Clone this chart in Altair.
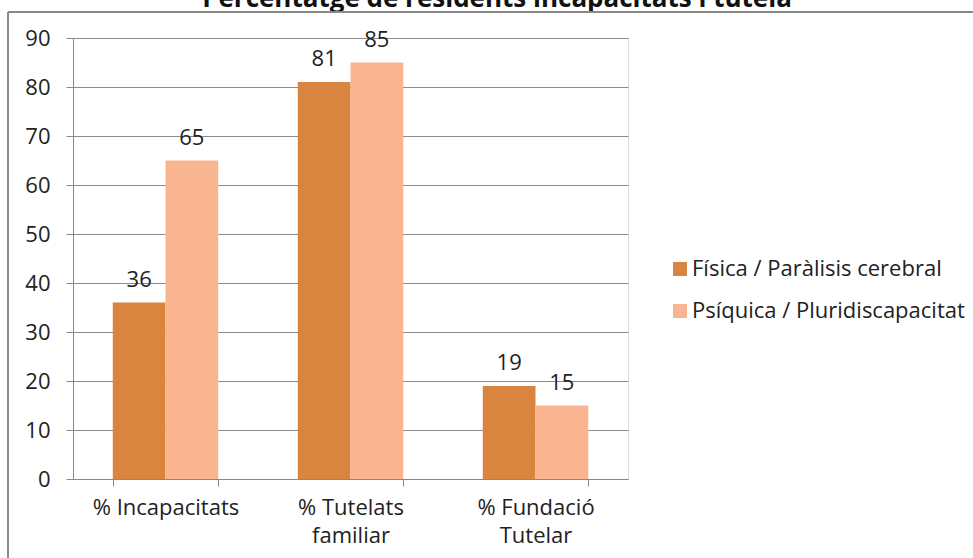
import altair as alt
import pandas as pd

categories = ["% Incapacitats", "% Tutelats familiar", "% Fundació Tutelar"]
series = ["Física / Paràlisis cerebral", "Psíquica / Pluridiscapacitat"]
fisica = [36, 81, 19]
psiquica = [65, 85, 15]
colors = ["#D9843F", "#F9B590"]
title_text = "Percentatge de residents incapacitats i tutela"

rows = []
for i, c in enumerate(categories):
    rows.append({"cat": c, "serie": series[0], "val": fisica[i]})
    rows.append({"cat": c, "serie": series[1], "val": psiquica[i]})
df = pd.DataFrame(rows)

FONT = "Open Sans"
FS = 22
W, H = 555, 441
PL, PT = 73, 38

label_expr = ("indexof(datum.label, 'Incapacitats') >= 0 ? datum.label : "
              "[slice(datum.label, 0, lastindexof(datum.label, ' ')), "
              "slice(datum.label, lastindexof(datum.label, ' ') + 1)]")

x = alt.X("cat:N", sort=categories, title=None,
          scale=alt.Scale(paddingInner=0.43, paddingOuter=0.215),
          axis=alt.Axis(labelExpr=label_expr, labelAngle=0, labelFontSize=FS,
                        labelFont=FONT, labelColor="#222222", labelPadding=11,
                        labelLineHeight=28, tickBand="extent", tickSize=7,
                        tickColor="#888888", domainColor="#888888", grid=False))
y = alt.Y("val:Q", title=None,
          scale=alt.Scale(domain=[0, 90], nice=False),
          axis=alt.Axis(values=list(range(0, 91, 10)), labelFontSize=FS,
                        labelFont=FONT, labelColor="#222222", labelPadding=16,
                        tickSize=7, tickColor="#888888", domainColor="#888888",
                        gridColor="#8C8C8C", gridOpacity=1))

base = alt.Chart(df)
bars = base.mark_bar().encode(
    x=x, y=y,
    xOffset=alt.XOffset("serie:N", sort=series),
    color=alt.Color("serie:N", sort=series,
                    scale=alt.Scale(domain=series, range=colors),
                    legend=alt.Legend(title=None, orient="none", legendX=596,
                                      legendY=220, labelFontSize=FS,
                                      labelFont=FONT, labelColor="#222222",
                                      labelLimit=400,
                                      symbolType="square", symbolSize=196,
                                      symbolStrokeWidth=0, rowPadding=20,
                                      symbolOffset=0, labelOffset=1)),
)
labels = base.mark_text(fontSize=FS, font=FONT, color="#222222", dy=-16,
                        baseline="alphabetic").encode(
    x=alt.X("cat:N", sort=categories),
    xOffset=alt.XOffset("serie:N", sort=series),
    y="val:Q",
    text="val:Q",
)
title = alt.Chart(pd.DataFrame({"t": [title_text]})).mark_text(
    fontSize=26, font=FONT, fontWeight="bold", color="#111111",
    align="center", baseline="alphabetic").encode(
    x=alt.value(497 - PL), y=alt.value(7 - PT), text="t:N")
border_top = alt.Chart(pd.DataFrame({"a": [0]})).mark_rule(
    color="#8A8A8A", strokeWidth=2).encode(
    x=alt.value(8 - PL), x2=alt.value(973 - PL + 5), y=alt.value(12 - PT))
border_left = alt.Chart(pd.DataFrame({"a": [0]})).mark_rule(
    color="#8A8A8A", strokeWidth=2).encode(
    x=alt.value(8 - PL), y=alt.value(12 - PT), y2=alt.value(558 - PT + 5))

chart = alt.layer(bars, labels, title, border_top, border_left).properties(
    width=W, height=H,
    autosize=alt.AutoSizeParams(type="none"),
    padding={"left": PL, "top": PT, "right": 973 - PL - W, "bottom": 558 - PT - H},
).configure_view(stroke=None).configure(background="white")

chart.save("out.html", embed_options={"renderer": "svg", "actions": False})
